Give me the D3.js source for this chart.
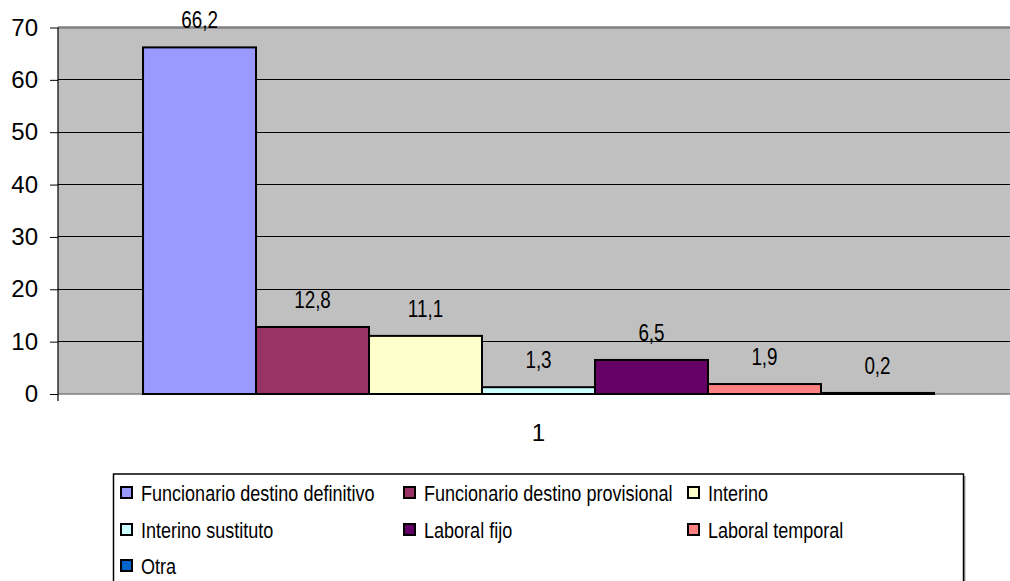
<!DOCTYPE html>
<html><head><meta charset="utf-8">
<script src="https://cdn.jsdelivr.net/npm/d3@7"></script>
<style>
body{margin:0;background:#fff;}
svg{display:block;font-family:"Liberation Sans",Arial,sans-serif;}
</style></head>
<body><svg id="c" width="1010" height="581"></svg>
<script>
const categories = ["1"];
const seriesNames = ["Funcionario destino definitivo","Funcionario destino provisional","Interino","Interino sustituto","Laboral fijo","Laboral temporal","Otra"];
const seriesValues = [66.2, 12.8, 11.1, 1.3, 6.5, 1.9, 0.2];
const seriesColors = ["#9999FF","#993366","#FFFFCC","#CCFFFF","#660066","#FF8080","#0066CC"];
const yTicks = [0,10,20,30,40,50,60,70];

const svg = d3.select("#c");
const L = 58, R = 1019, T = 27.5, B = 394;
const NARROW = 0.82;

const y = d3.scaleLinear().domain([0,70]).range([B,T]);
const x0 = d3.scaleBand().domain(categories).range([L,R]).paddingOuter(0.1075).paddingInner(0);
const x1 = d3.scaleBand().domain(seriesNames).range([0,x0.bandwidth()]).padding(0);

svg.append("rect").attr("x",L).attr("y",T).attr("width",R-L).attr("height",B-T).attr("fill","#C0C0C0");
svg.append("g").selectAll("line").data(yTicks.filter(t=>t>0 && t<70)).join("line")
  .attr("x1",L).attr("x2",R).attr("y1",d=>y(d)).attr("y2",d=>y(d))
  .attr("stroke","#000").attr("stroke-width",1).attr("shape-rendering","crispEdges");
svg.append("line").attr("x1",L).attr("x2",R).attr("y1",y(70)).attr("y2",y(70))
  .attr("stroke","#808080").attr("stroke-width",2.5);

svg.append("line").attr("x1",L).attr("x2",R).attr("y1",B).attr("y2",B)
  .attr("stroke","#808080").attr("stroke-width",1.5);

const g = svg.append("g").attr("transform",`translate(${x0(categories[0])},0)`);
g.selectAll("rect").data(seriesNames).join("rect")
  .attr("x",d=>x1(d)).attr("width",x1.bandwidth())
  .attr("y",(d,i)=>y(seriesValues[i])).attr("height",(d,i)=>B-y(seriesValues[i]))
  .attr("fill",(d,i)=>seriesColors[i]).attr("stroke","#000").attr("stroke-width",2);
g.selectAll("text").data(seriesNames).join("text")
  .attr("transform",(d,i)=>`translate(${x1(d)+x1.bandwidth()/2},${y(seriesValues[i])-19}) scale(${NARROW},1)`)
  .attr("text-anchor","middle").attr("font-size",23).attr("fill","#000")
  .text((d,i)=>String(seriesValues[i]).replace(".",","));

const yAxis = d3.axisLeft(y).tickValues(yTicks).tickSize(8).tickPadding(12).tickFormat(d3.format("d"));
const ya = svg.append("g").attr("transform",`translate(${L},0)`).call(yAxis);
ya.select(".domain").remove();
ya.selectAll(".tick line").attr("stroke","#000");
ya.selectAll(".tick text").attr("font-size",24).attr("fill","#000").attr("font-family","Liberation Sans, Arial, sans-serif");
svg.append("line").attr("x1",L).attr("x2",L).attr("y1",T).attr("y2",B+7).attr("stroke","#000").attr("stroke-width",1.2);

const xAxis = d3.axisBottom(x0).tickSize(0).tickPadding(0);
const xa = svg.append("g").attr("transform",`translate(0,${B})`).call(xAxis);
xa.select(".domain").remove();
xa.selectAll(".tick text").attr("font-size",24).attr("fill","#000").attr("dy",0).attr("y",47)
  .attr("font-family","Liberation Sans, Arial, sans-serif");

const lg = svg.append("g");
lg.append("rect").attr("x",115.5).attr("y",476).attr("width",850).attr("height",140).attr("fill","#A0A0A0");
lg.append("rect").attr("x",113.5).attr("y",474).attr("width",850).attr("height",140).attr("fill","#fff").attr("stroke","#000").attr("stroke-width",1.5);
const cols = [120,403,687], rows = [493,530,566];
seriesNames.forEach((n,i)=>{
  const cx = cols[i%3], cy = rows[Math.floor(i/3)];
  lg.append("rect").attr("x",cx+1).attr("y",cy-6).attr("width",11).attr("height",11)
    .attr("fill",seriesColors[i]).attr("stroke","#000").attr("stroke-width",2);
  lg.append("text").attr("transform",`translate(${cx+21},${cy+7.5}) scale(${NARROW},1)`)
    .attr("font-size",22).attr("fill","#000").text(n);
});
</script></body></html>
